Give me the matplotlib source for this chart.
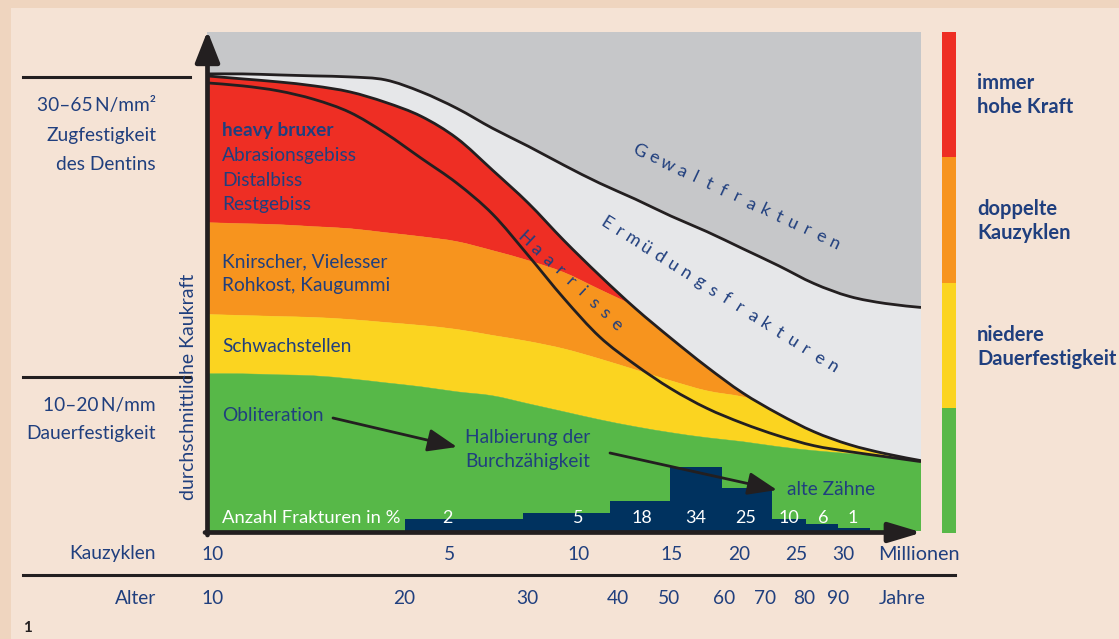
import numpy as np
import matplotlib
matplotlib.use('Agg')
import matplotlib.pyplot as plt
import matplotlib.transforms as mtransforms
from matplotlib.patches import Rectangle, PathPatch
from matplotlib.path import Path

plt.rcParams['font.family'] = ['Lato', 'DejaVu Sans']

# Lage entlang der Zeitachse (0 = Ursprung, 100 = Pfeilspitze)
zeit = [0, 5, 10, 15, 20, 25, 30, 35, 40, 45, 50, 55, 60, 65, 70, 75, 80, 85, 90, 95, 100]

# Kurven, durchschnittliche Kaukraft (0..100)
gewalt = [91.6, 91.6, 91.4, 91.2, 91.0, 90.4, 88.0, 84.7, 80.7, 77.1, 73.3,
          69.7, 66.5, 63.1, 60.0, 56.6, 53.2, 49.6, 47.0, 45.6, 44.8]
ermuedung = [91.2, 90.6, 90.0, 89.2, 88.0, 85.9, 83.1, 78.7, 72.3, 65.7, 58.2,
             51.2, 44.6, 38.6, 32.9, 27.7, 23.5, 19.9, 17.3, 15.5, 14.1]
haarrisse = [89.8, 89.2, 88.2, 86.5, 83.9, 79.7, 74.7, 69.7, 63.5, 55.2, 46.6,
             38.9, 33.3, 28.5, 24.6, 21.6, 19.1, 17.1, 15.9, 14.9, 13.9]

# Grenzen der Farbbänder
grenze_rot = [61.8, 61.6, 61.4, 61.0, 60.6, 59.8, 59.0, 58.0, 56.2, 54.2, 51.8,
              48.4, 45.0, 41.4, 38.4, 35.7, 33.7, 32.1, 30.7, 29.5, 28.5]
grenze_orange = [43.4, 43.2, 43.0, 42.8, 42.4, 41.8, 41.2, 40.4, 39.2, 38.0, 36.5,
                 34.5, 32.3, 30.1, 28.1, 26.9, 25.1, 23.7, 22.5, 21.5, 20.7]
grenze_gelb = [31.5, 31.5, 31.3, 31.1, 30.5, 29.7, 28.9, 27.9, 27.1, 25.5, 23.9,
               22.3, 20.9, 19.7, 18.7, 17.9, 16.9, 16.1, 15.5, 14.9, 13.7]

# Anzahl Frakturen in % (je Lebensjahrzehnt)
dekaden_kanten = [27.7, 44.3, 56.4, 64.8, 72.1, 79.1, 83.9, 88.4, 92.9]
balken_hoehe = [2.4, 3.6, 6.0, 12.9, 8.6, 2.4, 1.4, 0.6]
frakturen = [2, 5, 18, 34, 25, 10, 6, 1]
frakturen_x = [33.7, 52.0, 60.9, 68.5, 75.4, 81.5, 86.3, 90.5]

# Achsenbeschriftungen
kau_pos = [0.8, 33.9, 52.0, 65.1, 74.6, 82.5, 89.1]
kau_lab = ['10', '5', '10', '15', '20', '25', '30']
alter_pos = [0.8, 27.6, 44.8, 57.6, 64.7, 72.4, 78.2, 83.6, 88.4]
alter_lab = ['10', '20', '30', '40', '50', '60', '70', '80', '90']

legende = ['immer\nhohe Kraft', 'doppelte\nKauzyklen', 'niedere\nDauerfestigkeit', '']
legende_farben = ['#ee2e24', '#f7941e', '#fbd420', '#57b848']

blau = '#203f7e'
schwarz = '#231f20'
fs = 13.8


def bezier(xs, ys):
    # Stützpunkte -> glatte kubische Segmente (Catmull-Rom)
    p = np.column_stack([xs, ys]).astype(float)
    ext = np.vstack([p[0], p, p[-1]])
    verts = [p[0]]
    for i in range(1, len(ext) - 2):
        p0, p1, p2, p3 = ext[i - 1], ext[i], ext[i + 1], ext[i + 2]
        verts += [p1 + (p2 - p0) / 6, p2 - (p3 - p1) / 6, p2]
    return np.array(verts)


def linie(ys):
    v = bezier(zeit, ys)
    codes = [Path.MOVETO] + [Path.CURVE4] * (len(v) - 1)
    return Path(v, codes)


def flaeche(oben, unten):
    a = bezier(zeit, oben)
    b = bezier(zeit, unten)[::-1]
    v = np.vstack([a, b, a[:1]])
    codes = ([Path.MOVETO] + [Path.CURVE4] * (len(a) - 1) + [Path.LINETO]
             + [Path.CURVE4] * (len(b) - 1) + [Path.CLOSEPOLY])
    return Path(v, codes)


fig = plt.figure(figsize=(11.19, 6.39), dpi=100)
fig.patch.set_facecolor('#efd5bf')

# Hintergrund
bg = fig.add_axes([0, 0, 1, 1])
bg.set_xlim(0, 1119)
bg.set_ylim(639, 0)
bg.axis('off')
bg.add_patch(Rectangle((11, 8), 1110, 635, color='#f5e3d5', lw=0))

# Diagramm
ax = fig.add_axes([207 / 1119, (639 - 531) / 639, 714 / 1119, 499 / 639])
ax.set_xlim(0, 100)
ax.set_ylim(0, 100)
ax.axis('off')
ax.add_patch(Rectangle((0, 0), 100, 100, color='#c6c7c9', lw=0))
ax.add_patch(PathPatch(flaeche(gewalt, [-1] * len(zeit)), fc='#e6e7e9', lw=0))

unten = PathPatch(flaeche(ermuedung, [-1] * len(zeit)), fc='none', ec='none')
ax.add_patch(unten)
schichten = [
    (grenze_rot, [101] * len(zeit), '#ee2e24'),
    (grenze_orange, grenze_rot, '#f7941e'),
    (grenze_gelb, grenze_orange, '#fbd420'),
    ([-1] * len(zeit), grenze_gelb, '#57b848'),
]
for u, o, farbe in schichten:
    p = ax.add_patch(PathPatch(flaeche(o, u), fc=farbe, lw=0.3, ec=farbe))
    p.set_clip_path(unten)

for kurve in (gewalt, ermuedung, haarrisse):
    ax.add_patch(PathPatch(linie(kurve), fc='none', ec=schwarz, lw=2))

breiten = np.diff(dekaden_kanten)
ax.bar(dekaden_kanten[:-1], balken_hoehe, width=breiten, align='edge',
       color='#00325f', lw=0)
for xp, n in zip(frakturen_x, frakturen):
    ax.text(xp, 2.6, str(n), color='white', fontsize=13, ha='center', va='center')

# Texte im Diagramm
txt = dict(color=blau, fontsize=fs, ha='left', va='center')
ax.text(2.1, 80.3, 'heavy bruxer', fontweight='bold', **txt)
ax.text(2.1, 75.3, 'Abrasionsgebiss', **txt)
ax.text(2.1, 70.3, 'Distalbiss', **txt)
ax.text(2.1, 65.5, 'Restgebiss', **txt)
ax.text(2.1, 54.0, 'Knirscher, Vielesser', **txt)
ax.text(2.1, 49.2, 'Rohkost, Kaugummi', **txt)
ax.text(2.1, 37.0, 'Schwachstellen', **txt)
ax.text(2.1, 23.1, 'Obliteration', **txt)
ax.text(36.2, 18.7, 'Halbierung der', **txt)
ax.text(36.2, 13.9, 'Burchzähigkeit', **txt)
ax.text(81.2, 8.3, 'alte Zähne', **txt)
ax.text(2.1, 2.6, 'Anzahl Frakturen in %', color='white', fontsize=13.3,
        ha='left', va='center')

# Overlay für Achsen, Pfeile und Beschriftung außerhalb
top = fig.add_axes([0, 0, 1, 1], zorder=5)
top.set_xlim(0, 1119)
top.set_ylim(639, 0)
top.axis('off')
top.patch.set_alpha(0)


def pfeil(start, ziel, lw, hl, hw, ms):
    top.annotate('', xy=ziel, xytext=start,
                 arrowprops=dict(arrowstyle=f'-|>,head_length={hl},head_width={hw}',
                                 lw=lw, color=schwarz, mutation_scale=ms,
                                 shrinkA=0, shrinkB=0))


pfeil((207.5, 535), (207.5, 31), 3.4, 0.38, 0.15, 50)
pfeil((205, 532.5), (922, 532.5), 3.4, 0.40, 0.12, 50)
pfeil((333, 418), (457, 447), 2.0, 0.9, 0.35, 20)
pfeil((610, 453), (777, 490), 2.0, 0.9, 0.35, 20)

for yy in (77, 377):
    top.plot([23, 190], [yy, yy], color=schwarz, lw=2.2)
top.plot([23, 955], [575, 575], color=schwarz, lw=2.2)

links = dict(color=blau, fontsize=fs, ha='right', va='center')
top.text(156, 106, '30–65\u2009N/mm²', **links)
top.text(156, 136, 'Zugfestigkeit', **links)
top.text(156, 165, 'des Dentins', **links)
top.text(156, 405, '10–20\u2009N/mm', **links)
top.text(156, 434, 'Dauerfestigkeit', **links)
top.text(156, 554, 'Kauzyklen', **links)
top.text(156, 599, 'Alter', **links)
top.text(23, 628, '1', color=schwarz, fontsize=11, fontweight='bold', ha='left', va='center')
top.text(189, 387, 'durchschnittliche Kaukraft', color=blau, fontsize=14,
         rotation=90, ha='center', va='center')

blend = mtransforms.blended_transform_factory(ax.transData, top.transData)
for xp, s in zip(kau_pos, kau_lab):
    top.text(xp, 554, s, transform=blend, color=blau, fontsize=fs, ha='center', va='center')
for xp, s in zip(alter_pos, alter_lab):
    top.text(xp, 599, s, transform=blend, color=blau, fontsize=fs, ha='center', va='center')
top.text(878, 554, 'Millionen', color=blau, fontsize=14.3, ha='left', va='center')
top.text(879, 599, 'Jahre', color=blau, fontsize=14.3, ha='left', va='center')


# gesperrte, schräge Beschriftungen
def gesperrt(text, start, ende, size):
    winkel = -np.degrees(np.arctan2(ende[1] - start[1], ende[0] - start[0]))
    n = len(text)
    for i, ch in enumerate(text):
        t = i / (n - 1)
        x = start[0] + t * (ende[0] - start[0])
        y = start[1] + t * (ende[1] - start[1])
        top.text(x, y, ch, rotation=winkel, rotation_mode='anchor', color=blau,
                 fontsize=size, ha='center', va='center_baseline')


gesperrt('Gewaltfrakturen', (640, 150), (835, 242), 13)
gesperrt('Ermüdungsfrakturen', (607, 222), (833, 365), 13)
gesperrt('Haarrisse', (526, 238), (617, 323), 13)

# Farbleiste rechts
cb = fig.add_axes([942 / 1119, (639 - 533) / 639, 14 / 1119, 501 / 639])
cb.set_xlim(0, 1)
cb.set_ylim(0, 4)
cb.axis('off')
cb.bar([0.5] * 4, [1] * 4, bottom=[3, 2, 1, 0], width=1, color=legende_farben, lw=0)
for i, s in enumerate(legende[:3]):
    top.text(977, 95 + i * 126, s, color=blau, fontsize=14.5, fontweight='bold',
             ha='left', va='center', linespacing=1.3)

fig.savefig('out.png', dpi=100, facecolor=fig.get_facecolor())
